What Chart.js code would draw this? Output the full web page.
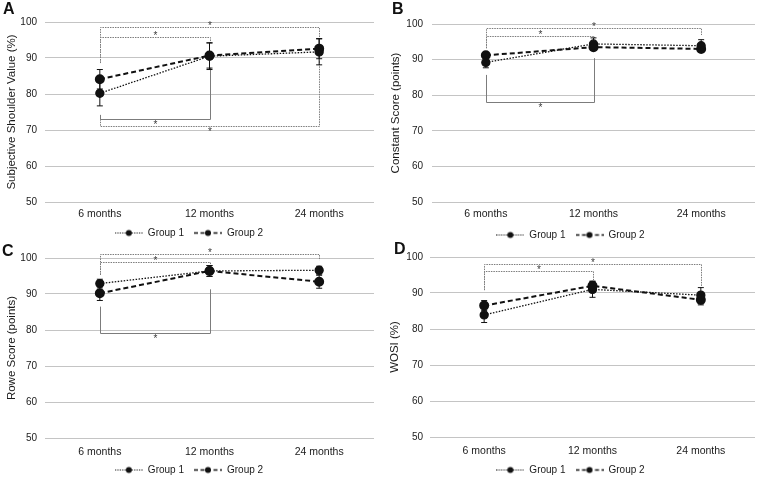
<!DOCTYPE html>
<html>
<head>
<meta charset="utf-8">
<script src="https://cdn.jsdelivr.net/npm/chart.js@4.4.1/dist/chart.umd.min.js"></script>
<style>
    html, body { margin: 0; padding: 0; background: #fff; overflow: hidden; }
    body { width: 761px; height: 480px; position: relative; font-family: "Liberation Sans", Arial, sans-serif; }
    .panel { position: absolute; }
    .letter { position: absolute; font-weight: bold; font-size: 16px; line-height: 16px; color: #111; }
</style>
</head>
<body>
<div class="panel" id="boxA"><canvas id="chartA"></canvas></div>
<div class="panel" id="boxB"><canvas id="chartB"></canvas></div>
<div class="panel" id="boxC"><canvas id="chartC"></canvas></div>
<div class="panel" id="boxD"><canvas id="chartD"></canvas></div>
<div class="letter" style="left:3px;top:1px">A</div>
<div class="letter" style="left:392px;top:1px">B</div>
<div class="letter" style="left:2px;top:243px">C</div>
<div class="letter" style="left:394px;top:241px">D</div>

<script>
    // x categories
    const months = ['6 months', '12 months', '24 months'];
    const groupNames = ['Group 1', 'Group 2'];

    // A - Subjective Shoulder Value (%)
    const ssvGroup1 = [80.2, 90.5, 91.7];
    const ssvGroup1Err = [3.5, 3.7, 3.6];
    const ssvGroup2 = [84.1, 90.7, 92.6];
    const ssvGroup2Err = [2.7, 3.5, 2.8];
    // [from, to, level, from end, to end, solid]
    const ssvBrackets = [
        [0, 2, 98.5, 88.6, 95.5, false],
        [0, 1, 95.9, 88.6, 94.2, false],
        [0, 1, 73.0, 74.2, 87.3, true],
        [0, 2, 71.0, 73.0, 89.4, false]
    ];

    // B - Constant Score (points)
    const constantGroup1 = [89.2, 94.4, 93.9];
    const constantGroup1Err = [1.5, 1.7, 1.7];
    const constantGroup2 = [91.2, 93.5, 93.0];
    const constantGroup2Err = [0.8, 0.8, 0.6];
    const constantBrackets = [
        [0, 2, 98.8, 93.2, 96.9, false],
        [0, 1, 96.7, 93.2, 96.0, false],
        [0, 1, 78.0, 85.7, 90.4, true]
    ];

    // C - Rowe Score (points)
    const roweGroup1 = [92.9, 96.4, 96.6];
    const roweGroup1Err = [1.2, 1.5, 1.1];
    const roweGroup2 = [90.2, 96.4, 93.4];
    const roweGroup2Err = [2.0, 1.5, 1.8];
    const roweBrackets = [
        [0, 2, 101.1, 95.3, 99.4, false],
        [0, 1, 98.8, 95.3, 98.1, false],
        [0, 1, 79.3, 86.5, 91.3, true]
    ];

    // D - WOSI (%)
    const wosiGroup1 = [83.9, 91.0, 89.4];
    const wosiGroup1Err = [2.1, 2.2, 2.1];
    const wosiGroup2 = [86.5, 92.0, 88.1];
    const wosiGroup2Err = [1.4, 1.3, 1.4];
    const wosiBrackets = [
        [0, 2, 98.0, 90.8, 91.7, false],
        [0, 1, 96.0, 90.8, 93.6, false]
    ];

    const INK = '#111';
    const TEXT = '#1a1a1a';
    const FAMILY = '"Liberation Sans", Arial, sans-serif';
    const LEGEND_H_EXTRA = 10;

    // legend sample: line with the marker in the middle
    function legendIcon(dash, width) {
        const c = document.createElement('canvas');
        c.width = 28; c.height = 9;
        const ctx = c.getContext('2d');
        ctx.strokeStyle = INK;
        ctx.lineWidth = width;
        ctx.setLineDash(dash);
        ctx.beginPath(); ctx.moveTo(0, 4.5); ctx.lineTo(28, 4.5); ctx.stroke();
        ctx.fillStyle = INK;
        ctx.beginPath(); ctx.arc(14, 4.5, 3, 0, Math.PI * 2); ctx.fill();
        return c;
    }
    const legendIcons = [legendIcon([1.2, 1.2], 1.2), legendIcon([4, 2.5], 1.6)];

    const errorBars = {
        id: 'errorBars',
        afterDatasetsDraw(chart) {
            const ctx = chart.ctx, y = chart.scales.y;
            ctx.save();
            ctx.strokeStyle = INK;
            ctx.lineWidth = 1;
            chart.data.datasets.forEach((ds, i) => {
                chart.getDatasetMeta(i).data.forEach((pt, j) => {
                    const top = y.getPixelForValue(ds.data[j] + ds.errors[j]);
                    const bot = y.getPixelForValue(ds.data[j] - ds.errors[j]);
                    ctx.beginPath();
                    ctx.moveTo(pt.x, top); ctx.lineTo(pt.x, bot);
                    ctx.moveTo(pt.x - 3, top); ctx.lineTo(pt.x + 3, top);
                    ctx.moveTo(pt.x - 3, bot); ctx.lineTo(pt.x + 3, bot);
                    ctx.stroke();
                });
            });
            ctx.restore();
        }
    };

    const sigBrackets = {
        id: 'sigBrackets',
        beforeDatasetsDraw(chart, args, opts) {
            const ctx = chart.ctx, x = chart.scales.x, y = chart.scales.y;
            ctx.save();
            ctx.strokeStyle = '#7c7c7c';
            ctx.lineWidth = 1;
            ctx.fillStyle = '#3a3a3a';
            ctx.font = '10px ' + FAMILY;
            ctx.textAlign = 'center';
            (opts.list || []).forEach(b => {
                const x0 = Math.round(x.getPixelForValue(b[0])) + 0.5;
                const x1 = Math.round(x.getPixelForValue(b[1])) + 0.5;
                const yl = Math.round(y.getPixelForValue(b[2])) + 0.5;
                ctx.setLineDash(b[5] ? [] : [1.5, 1]);
                ctx.beginPath();
                ctx.moveTo(x0, y.getPixelForValue(b[3]));
                ctx.lineTo(x0, yl);
                ctx.lineTo(x1, yl);
                ctx.lineTo(x1, y.getPixelForValue(b[4]));
                ctx.stroke();
                const above = b[2] > b[3];
                ctx.textBaseline = above ? 'bottom' : 'top';
                ctx.fillText('*', (x0 + x1) / 2, above ? yl + 4 : yl + 1);
            });
            ctx.restore();
        }
    };

    function makePanel(id, geo, yTitle, g1, g1Err, g2, g2Err, brackets) {
        const box = document.getElementById('box' + id);
        box.style.left = geo.x + 'px';
        box.style.top = geo.y + 'px';
        box.style.width = geo.w + 'px';
        box.style.height = geo.h + 'px';

        const legendFont = 10, legendPad = 10;
        const legendH = legendFont + legendPad + LEGEND_H_EXTRA;
        const legendTop = geo.legendY - (legendPad + legendFont / 2);
        const xAxisH = legendTop - geo.areaB;
        const padBottom = geo.h - (legendTop + legendH);

        new Chart(document.getElementById('chart' + id), {
            type: 'line',
            data: {
                labels: months,
                datasets: [
                    {
                        label: groupNames[0],
                        data: g1,
                        errors: g1Err,
                        borderColor: INK,
                        borderWidth: 1.3,
                        borderDash: [1.5, 1.5],
                        pointRadius: 4,
                        pointBackgroundColor: INK,
                        pointBorderColor: INK,
                        fill: false,
                        tension: 0
                    },
                    {
                        label: groupNames[1],
                        data: g2,
                        errors: g2Err,
                        borderColor: INK,
                        borderWidth: 2,
                        borderDash: [5, 3],
                        pointRadius: 4,
                        pointBackgroundColor: INK,
                        pointBorderColor: INK,
                        fill: false,
                        tension: 0
                    }
                ]
            },
            options: {
                responsive: true,
                maintainAspectRatio: false,
                animation: false,
                layout: {
                    padding: { left: 0, top: geo.areaT, right: geo.w - geo.areaR, bottom: padBottom }
                },
                plugins: {
                    legend: {
                        position: 'bottom',
                        labels: {
                            usePointStyle: true,
                            pointStyleWidth: 28,
                            padding: legendPad,
                            color: TEXT,
                            font: { family: FAMILY, size: legendFont },
                            generateLabels(chart) {
                                const items = Chart.defaults.plugins.legend.labels.generateLabels(chart);
                                items.forEach((it, i) => { it.pointStyle = legendIcons[i]; });
                                return items;
                            }
                        }
                    },
                    tooltip: { enabled: false },
                    sigBrackets: { list: brackets }
                },
                scales: {
                    x: {
                        offset: true,
                        grid: { display: false, drawTicks: false },
                        border: { display: false },
                        ticks: {
                            padding: geo.labelY - geo.areaB - 5.5,
                            color: TEXT,
                            maxRotation: 0,
                            font: { family: FAMILY, size: 10.5 }
                        },
                        afterFit(scale) { scale.height = xAxisH; }
                    },
                    y: {
                        min: 50,
                        max: 100,
                        grid: { color: '#c4c4c4', lineWidth: 1, drawTicks: false },
                        border: { display: false },
                        ticks: {
                            stepSize: 10,
                            padding: geo.tickPad,
                            color: TEXT,
                            font: { family: FAMILY, size: 10 }
                        },
                        title: {
                            display: true,
                            text: yTitle,
                            color: TEXT,
                            padding: { top: geo.titleX - 6.9, bottom: 0 },
                            font: { family: FAMILY, size: 11.5 }
                        },
                        afterFit(scale) { scale.width = geo.areaL; }
                    }
                }
            },
            plugins: [sigBrackets, errorBars]
        });
    }

    makePanel('A', { x: 0, y: 0, w: 380, h: 250, areaL: 45, areaR: 378, areaT: 22, areaB: 202, labelY: 213, legendY: 233, tickPad: 8, titleX: 12 },
        'Subjective Shoulder Value (%)', ssvGroup1, ssvGroup1Err, ssvGroup2, ssvGroup2Err, ssvBrackets);
    makePanel('B', { x: 380, y: 0, w: 381, h: 250, areaL: 52, areaR: 381, areaT: 24, areaB: 202, labelY: 213, legendY: 235, tickPad: 9, titleX: 16 },
        'Constant Score (points)', constantGroup1, constantGroup1Err, constantGroup2, constantGroup2Err, constantBrackets);
    makePanel('C', { x: 0, y: 240, w: 380, h: 250, areaL: 45, areaR: 378, areaT: 18, areaB: 198, labelY: 211, legendY: 230, tickPad: 8, titleX: 12 },
        'Rowe Score (points)', roweGroup1, roweGroup1Err, roweGroup2, roweGroup2Err, roweBrackets);
    makePanel('D', { x: 380, y: 240, w: 381, h: 250, areaL: 50, areaR: 381, areaT: 17, areaB: 197, labelY: 210, legendY: 230, tickPad: 7, titleX: 15 },
        'WOSI (%)', wosiGroup1, wosiGroup1Err, wosiGroup2, wosiGroup2Err, wosiBrackets);
</script>
</body>
</html>
